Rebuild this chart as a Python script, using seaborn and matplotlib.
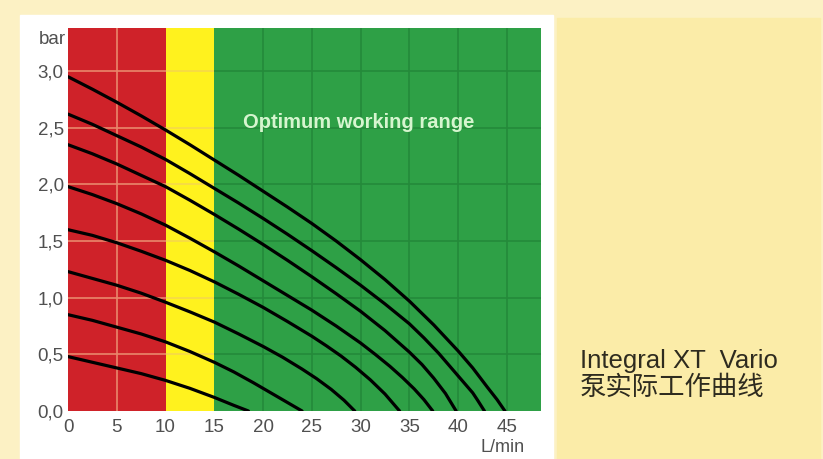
import pandas as pd
import seaborn as sns
import matplotlib.pyplot as plt
from matplotlib.patches import Rectangle

# pump curves: flow (L/min) vs pressure (bar), top curve first
c1_x = [0, 2.5, 5, 7.5, 10, 12.5, 15, 17.5, 20, 22.5, 25, 27.5, 30, 32.5, 35, 37.5, 40, 41.5, 43, 44, 44.8]
c1_y = [2.95, 2.84, 2.725, 2.605, 2.48, 2.35, 2.215, 2.08, 1.94, 1.80, 1.655, 1.50, 1.335, 1.16, 0.97,
        0.76, 0.53, 0.38, 0.21, 0.10, 0]
c2_x = [0, 2.5, 5, 7.5, 10, 12.5, 15, 17.5, 20, 22.5, 25, 27.5, 30, 32.5, 35, 36.5, 38, 39, 40, 41.5, 42, 42.7]
c2_y = [2.62, 2.53, 2.43, 2.33, 2.22, 2.095, 1.965, 1.835, 1.70, 1.56, 1.415, 1.265, 1.11, 0.945, 0.77,
        0.645, 0.51, 0.41, 0.31, 0.16, 0.095, 0]
c3_x = [0, 2.5, 5, 7.5, 10, 12.5, 15, 17.5, 20, 22.5, 25, 27.5, 30, 32.5, 35, 36.3, 37.5, 38.7, 39.8]
c3_y = [2.35, 2.27, 2.18, 2.08, 1.98, 1.86, 1.735, 1.605, 1.47, 1.33, 1.185, 1.035, 0.88, 0.71, 0.52,
        0.41, 0.29, 0.155, 0]
c4_x = [0, 2.5, 5, 7.5, 10, 12.5, 15, 17.5, 20, 22.5, 25, 27.5, 30, 31.5, 33, 34.3, 35.5, 36.5, 37.4]
c4_y = [1.98, 1.91, 1.83, 1.74, 1.64, 1.525, 1.405, 1.28, 1.15, 1.02, 0.89, 0.75, 0.60, 0.50, 0.395,
        0.295, 0.195, 0.10, 0]
c5_x = [0, 2.5, 5, 7.5, 10, 12.5, 15, 17.5, 20, 22.5, 25, 26.5, 28, 29.5, 31, 32.5, 34]
c5_y = [1.60, 1.55, 1.485, 1.41, 1.33, 1.24, 1.14, 1.03, 0.915, 0.79, 0.66, 0.575, 0.485, 0.385, 0.275, 0.15, 0]
c6_x = [0, 2.5, 5, 7.5, 10, 12.5, 15, 17.5, 20, 22, 24, 25.5, 27, 28.3, 29.4]
c6_y = [1.23, 1.17, 1.11, 1.04, 0.96, 0.875, 0.785, 0.68, 0.57, 0.475, 0.37, 0.285, 0.19, 0.095, 0]
c7_x = [0, 2.5, 5, 7.5, 10, 12.5, 15, 17, 19, 20.5, 22, 23, 24]
c7_y = [0.85, 0.80, 0.74, 0.68, 0.61, 0.525, 0.43, 0.345, 0.25, 0.175, 0.10, 0.05, 0]
c8_x = [0, 2.5, 5, 7.5, 10, 12.5, 15, 17, 18.5]
c8_y = [0.48, 0.43, 0.38, 0.33, 0.27, 0.20, 0.12, 0.05, 0]

curves_x = [c1_x, c2_x, c3_x, c4_x, c5_x, c6_x, c7_x, c8_x]
curves_y = [c1_y, c2_y, c3_y, c4_y, c5_y, c6_y, c7_y, c8_y]

# working ranges: red / yellow / green
zone_edges = [0, 10, 15, 48.5]
zone_colors = ['#cf2229', '#fff21e', '#2ea046']
grid_colors = ['#e9886c', '#f6d84a', '#248a3a']

x_ticks = [0, 5, 10, 15, 20, 25, 30, 35, 40, 45]
y_ticks = [0.0, 0.5, 1.0, 1.5, 2.0, 2.5, 3.0]
y_labels = ['0,0', '0,5', '1,0', '1,5', '2,0', '2,5', '3,0']
y_top = 3.38

frames = []
for i, (xs, ys) in enumerate(zip(curves_x, curves_y)):
    frames.append(pd.DataFrame({'flow': xs, 'pressure': ys, 'curve': f'c{i + 1}'}))
df = pd.concat(frames, ignore_index=True)

sns.set_style('white')
plt.rcParams['font.family'] = ['Liberation Sans', 'DejaVu Sans']

W, H = 823, 459
fig = plt.figure(figsize=(W / 100, H / 100), dpi=100, facecolor='#fcf1c4')
# white card behind the chart and the yellow side panel
fig.patches.append(Rectangle((20 / W, 0), (553 - 20) / W, (H - 15) / H,
                             transform=fig.transFigure, color='white', zorder=-10))
fig.patches.append(Rectangle((557 / W, 0), (820 - 557) / W, (H - 18) / H,
                             transform=fig.transFigure, color='#fbeca8', zorder=-10))

ax = fig.add_axes([68 / W, (H - 411) / H, 473 / W, 383 / H])
ax.set_zorder(5)

for i in range(len(zone_colors)):
    lo, hi = zone_edges[i], zone_edges[i + 1]
    ax.axvspan(lo, hi, color=zone_colors[i], lw=0, zorder=0)
    ax.hlines(y_ticks[1:], lo, hi, color=grid_colors[i], lw=1.2, zorder=1)
    inner = [t for t in x_ticks if lo < t < hi]
    if inner:
        ax.vlines(inner, 0, y_top, color=grid_colors[i], lw=1.2, zorder=1)

sns.lineplot(data=df, x='flow', y='pressure', hue='curve', units='curve',
             palette=['black'] * len(curves_x), estimator=None, sort=False,
             legend=False, lw=2.3, ax=ax, zorder=3)

ax.set_xlim(zone_edges[0], zone_edges[-1])
ax.set_ylim(0, y_top)
ax.set_xticks(x_ticks)
ax.set_xticklabels([str(t) for t in x_ticks])
ax.set_yticks(y_ticks)
ax.set_yticklabels(y_labels)
ax.tick_params(length=0, labelsize=13.5, labelcolor='#505050')
ax.tick_params(axis='x', pad=6)
ax.tick_params(axis='y', pad=3)
ax.set_xlabel('')
ax.set_ylabel('')
for s in ax.spines.values():
    s.set_visible(False)

ax.text(29.8, 2.55, 'Optimum working range', color='#d6f5cf', fontweight='bold',
        ha='center', va='center', fontsize=14.5)

fig.text(66 / W, 1 - 40 / H, 'bar', ha='right', va='center', fontsize=13.5, color='#505050')
fig.text(503 / W, 1 - 448 / H, 'L/min', ha='center', va='center', fontsize=13, color='#505050')

fig.text(580 / W, 1 - 361 / H, 'Integral XT  Vario', ha='left', va='center',
         fontsize=18.5, color='#2e2b1f')
fig.text(580 / W, 1 - 387 / H, '泵实际工作曲线', ha='left', va='center',
         fontsize=19, color='#2e2b1f', family=['Noto Sans CJK SC', 'DejaVu Sans'])

fig.savefig('out.png', dpi=100, facecolor=fig.get_facecolor())
